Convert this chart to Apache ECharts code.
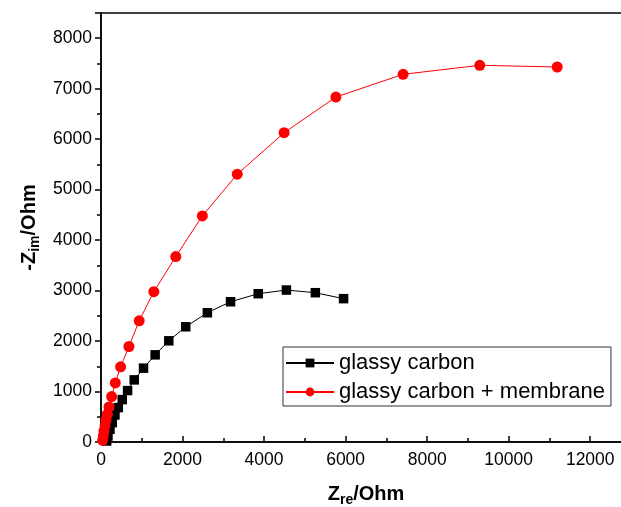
<!DOCTYPE html>
<html>
<head>
<meta charset="utf-8">
<script src="https://cdn.jsdelivr.net/npm/echarts@6/dist/echarts.min.js"></script>
<style>
    html, body { margin: 0; padding: 0; background: #fff; }
    #chart { width: 621px; height: 507px; }
</style>
</head>
<body>
<div id="chart"></div>
<script>
// glassy carbon (black squares)
var gcRe = [139, 171, 220, 277, 342, 424, 522, 652, 815, 1043, 1328, 1663, 2078, 2609, 3178, 3856, 4548, 5257, 5950];
var gcIm = [20, 119, 252, 384, 536, 682, 840, 1019, 1231, 1463, 1727, 2005, 2283, 2561, 2779, 2938, 3011, 2958, 2840];

// glassy carbon + membrane (red circles)
var gcmRe = [41, 57, 73, 98, 122, 155, 196, 261, 350, 481, 685, 937, 1296, 1834, 2486, 3342, 4491, 5762, 7410, 9290, 11190];
var gcmIm = [34, 119, 218, 318, 430, 550, 695, 900, 1171, 1489, 1892, 2402, 2978, 3673, 4480, 5306, 6128, 6835, 7285, 7464, 7430];

var seriesNames = ['glassy carbon', 'glassy carbon + membrane'];

function pairs(xs, ys) {
    return xs.map(function (x, i) { return [x, ys[i]]; });
}

var font = 'Liberation Sans, Arial, sans-serif';
var nameRich = {
    a: { fontFamily: font, fontSize: 20, fontWeight: 'bold', color: '#000' },
    s: { fontFamily: font, fontSize: 14, fontWeight: 'bold', color: '#000', padding: [11, 0, 0, 0] }
};

// plain numbers, and no label at the top (8500) / right (13000) ends
function tickText(limit) {
    return function (v) { return v > limit ? '' : String(v); };
}

var myChart = echarts.init(document.getElementById('chart'));

myChart.setOption({
    animation: false,
    grid: {
        left: 101, right: -10, top: 13, bottom: 65,
        outerBoundsMode: 'none',
        show: true, borderColor: '#000', borderWidth: 1.5
    },
    legend: {
        left: 283, top: 347,
        orient: 'vertical',
        data: seriesNames,
        borderColor: '#333', borderWidth: 1,
        padding: [5, 6, 3, 2],
        itemGap: 7,
        itemWidth: 48, itemHeight: 11,
        textStyle: { fontFamily: font, fontSize: 22, color: '#000' }
    },
    xAxis: {
        type: 'value',
        min: 0, max: 13000, interval: 2000,
        name: '{a|Z}{s|re}{a|/Ohm}',
        nameLocation: 'middle', nameGap: 40,
        nameTextStyle: { rich: nameRich },
        axisLine: { lineStyle: { color: '#000', width: 1.5 } },
        axisTick: { inside: true, length: 6, lineStyle: { color: '#000', width: 1.5 } },
        minorTick: { show: true, splitNumber: 2, length: 4, lineStyle: { color: '#000', width: 1.5 } },
        splitLine: { show: false },
        axisLabel: { margin: 9, fontFamily: font, fontSize: 17.5, color: '#000', formatter: tickText(12000) }
    },
    yAxis: {
        type: 'value',
        min: 0, max: 8500, interval: 1000,
        name: '{a|-Z}{s|im}{a|/Ohm}',
        nameLocation: 'middle', nameGap: 59, nameRotate: 90,
        nameTextStyle: { rich: nameRich },
        axisLine: { lineStyle: { color: '#000', width: 1.5 } },
        axisTick: { length: 6, lineStyle: { color: '#000', width: 1.5 } },
        minorTick: { show: true, splitNumber: 2, length: 4, lineStyle: { color: '#000', width: 1.5 } },
        splitLine: { show: false },
        axisLabel: { margin: 9, fontFamily: font, fontSize: 17.5, color: '#000', formatter: tickText(8000) }
    },
    series: [
        {
            name: seriesNames[0],
            type: 'line',
            data: pairs(gcRe, gcIm),
            symbol: 'rect', symbolSize: 9.5,
            itemStyle: { color: '#000' },
            lineStyle: { color: '#000', width: 1 }
        },
        {
            name: seriesNames[1],
            type: 'line',
            data: pairs(gcmRe, gcmIm),
            symbol: 'circle', symbolSize: 11,
            itemStyle: { color: '#ff0000' },
            lineStyle: { color: '#ff0000', width: 1 }
        }
    ]
});
</script>
</body>
</html>
